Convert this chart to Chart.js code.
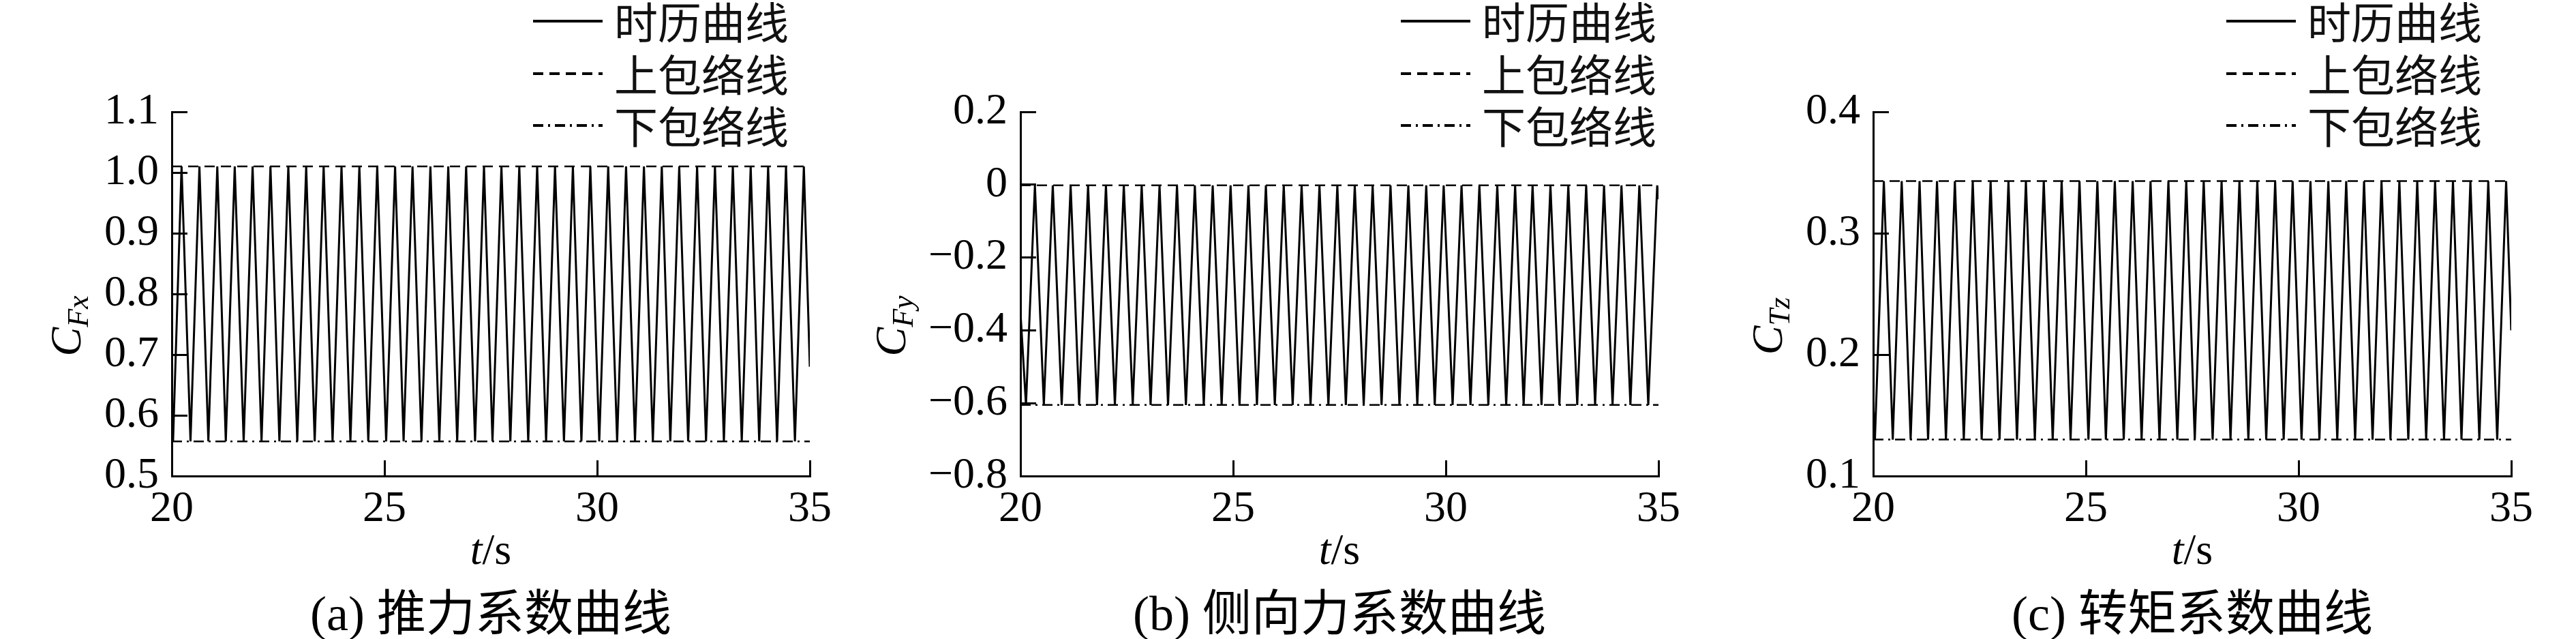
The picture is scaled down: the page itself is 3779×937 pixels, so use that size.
<!DOCTYPE html>
<html>
<head>
<meta charset="utf-8">
<script src="https://cdn.jsdelivr.net/npm/chart.js@4.4.1/dist/chart.umd.min.js"></script>
<style>
  body { margin: 0; background: #fff; width: 3779px; height: 937px; position: relative; overflow: hidden; }
  canvas { position: absolute; top: 0; }
</style>
</head>
<body>
<canvas id="cfx" width="1260" height="937" style="left:0px"></canvas>
<canvas id="cfy" width="1260" height="937" style="left:1245px"></canvas>
<canvas id="ctz" width="1260" height="937" style="left:2496px"></canvas>
<script>
// legend labels
const seriesNames = ["时历曲线", "上包络线", "下包络线"];

// (a) thrust coefficient: times of peaks / troughs
const tPeakFx = [20.23, 20.65, 21.07, 21.48, 21.90, 22.32, 22.74, 23.16, 23.57, 23.99, 24.41, 24.83,
  25.25, 25.66, 26.08, 26.50, 26.92, 27.34, 27.75, 28.17, 28.59, 29.01, 29.43, 29.84,
  30.26, 30.68, 31.10, 31.52, 31.93, 32.35, 32.77, 33.19, 33.61, 34.02, 34.44, 34.86];
const tTroughFx = [20.03, 20.44, 20.86, 21.27, 21.69, 22.11, 22.53, 22.95, 23.36, 23.78, 24.20, 24.62,
  25.04, 25.45, 25.87, 26.29, 26.71, 27.13, 27.54, 27.96, 28.38, 28.80, 29.22, 29.63,
  30.05, 30.47, 30.89, 31.31, 31.72, 32.14, 32.56, 32.98, 33.40, 33.81, 34.23, 34.65];
const envFx = [1.01, 0.557];      // upper, lower envelope
const edgeTFx = [20, 35];
const edgeVFx = [0.64, 0.68];
const yTicksFx = [0.5, 1.1, 0.1];  // min, max, step

// (b) side force coefficient
const tPeakFy = [20.34, 20.76, 21.18, 21.59, 22.01, 22.43, 22.85, 23.27, 23.68, 24.10, 24.52, 24.94,
  25.36, 25.77, 26.19, 26.61, 27.03, 27.45, 27.86, 28.28, 28.70, 29.12, 29.54, 29.95,
  30.37, 30.79, 31.21, 31.63, 32.04, 32.46, 32.88, 33.30, 33.72, 34.13, 34.55, 34.97];
const tTroughFy = [20.13, 20.55, 20.97, 21.38, 21.80, 22.22, 22.64, 23.06, 23.47, 23.89, 24.31, 24.73,
  25.15, 25.56, 25.98, 26.40, 26.82, 27.24, 27.65, 28.07, 28.49, 28.91, 29.33, 29.74,
  30.16, 30.58, 31.00, 31.42, 31.83, 32.25, 32.67, 33.09, 33.51, 33.92, 34.34, 34.76];
const envFy = [-0.002, -0.605];
const edgeTFy = [20, 35];
const edgeVFy = [-0.35, -0.04];
const yTicksFy = [-0.8, 0.2, 0.2];

// (c) torque coefficient
const tPeakTz = [20.25, 20.67, 21.09, 21.50, 21.92, 22.34, 22.76, 23.18, 23.59, 24.01, 24.43, 24.85,
  25.27, 25.68, 26.10, 26.52, 26.94, 27.36, 27.77, 28.19, 28.61, 29.03, 29.45, 29.86,
  30.28, 30.70, 31.12, 31.54, 31.95, 32.37, 32.79, 33.21, 33.63, 34.04, 34.46, 34.88];
const tTroughTz = [20.04, 20.46, 20.88, 21.29, 21.71, 22.13, 22.55, 22.97, 23.38, 23.80, 24.22, 24.64,
  25.06, 25.47, 25.89, 26.31, 26.73, 27.15, 27.56, 27.98, 28.40, 28.82, 29.24, 29.65,
  30.07, 30.49, 30.91, 31.33, 31.74, 32.16, 32.58, 33.00, 33.42, 33.83, 34.25, 34.67];
const envTz = [0.343, 0.130];
const edgeTTz = [20, 35];
const edgeVTz = [0.16, 0.22];
const yTicksTz = [0.1, 0.4, 0.1];

const xTicks = [20, 35, 5];

const SERIF = "'Liberation Serif', 'Times New Roman', serif";
const CJK = "'Noto Sans CJK SC', sans-serif";

// join troughs and peaks into one polyline
function buildSeries(tPeak, tTrough, env, edgeT, edgeV) {
  const pts = [{ x: edgeT[0], y: edgeV[0] }];
  tPeak.forEach((t, i) => {
    pts.push({ x: tTrough[i], y: env[1] });
    pts.push({ x: t, y: env[0] });
  });
  pts.push({ x: edgeT[1], y: edgeV[1] });
  return pts;
}

function fmtTick(v) {
  const r = Math.round(v * 10) / 10;
  if (r === 0) return "0";
  return r.toFixed(1).replace("-", "\u2212");
}

// axis titles, caption and legend
const decor = {
  id: "decor",
  afterDraw(chart) {
    const o = chart.options.plugins.decor;
    const ctx = chart.ctx;
    const a = chart.chartArea;
    ctx.save();
    ctx.fillStyle = "#000";

    // y title: C with subscript, rotated
    ctx.translate(o.yTitleX, 478);
    ctx.rotate(-Math.PI / 2);
    ctx.textBaseline = "middle";
    ctx.font = "italic 64px " + SERIF;
    const wC = ctx.measureText("C").width;
    ctx.font = "italic 44px " + SERIF;
    const wS = ctx.measureText(o.sub).width;
    const u0 = -(wC + wS) / 2;
    ctx.font = "italic 64px " + SERIF;
    ctx.textAlign = "left";
    ctx.fillText("C", u0, 0);
    ctx.font = "italic 44px " + SERIF;
    ctx.fillText(o.sub, u0 + wC, 16);
    ctx.setTransform(1, 0, 0, 1, 0, 0);

    // x title t/s
    const cx = (a.left + a.right) / 2;
    ctx.textBaseline = "middle";
    ctx.font = "italic 64px " + SERIF;
    const wt = ctx.measureText("t").width;
    ctx.font = "64px " + SERIF;
    const ws = ctx.measureText("/s").width;
    const x0 = cx - (wt + ws) / 2;
    ctx.textAlign = "left";
    ctx.font = "italic 64px " + SERIF;
    ctx.fillText("t", x0, 810);
    ctx.font = "64px " + SERIF;
    ctx.fillText("/s", x0 + wt, 810);

    // caption
    ctx.textAlign = "center";
    ctx.font = "72px 'Liberation Serif', 'Noto Sans CJK SC'";
    ctx.fillText(o.caption, cx, 905);

    // legend
    const rows = [31, 108, 184];
    const lx = a.right + o.legendDx;
    chart.data.datasets.forEach((ds, i) => {
      const y = rows[i];
      ctx.beginPath();
      ctx.setLineDash(ds.borderDash || []);
      ctx.lineWidth = 4;
      ctx.strokeStyle = "#000";
      ctx.moveTo(lx - 414, y);
      ctx.lineTo(lx - 312, y);
      ctx.stroke();
      ctx.setLineDash([]);
      ctx.textAlign = "left";
      ctx.font = "64px " + CJK;
      ctx.fillStyle = "#111";
      ctx.fillText(ds.label, lx - 295, y + 2);
    });
    ctx.restore();
  },
};

function makePanel(id, series, env, yTicks, sub, caption, yTitleX, legendDx) {
  const axisFont = { family: SERIF, size: 64, lineHeight: 1 };
  return new Chart(document.getElementById(id), {
    type: "line",
    data: {
      datasets: [
        { label: seriesNames[0], data: series, borderColor: "#000", borderWidth: 3,
          pointRadius: 0, tension: 0 },
        { label: seriesNames[1], data: [{ x: xTicks[0], y: env[0] }, { x: xTicks[1], y: env[0] }],
          borderColor: "#000", borderWidth: 2.5, borderDash: [15, 9], pointRadius: 0 },
        { label: seriesNames[2], data: [{ x: xTicks[0], y: env[1] }, { x: xTicks[1], y: env[1] }],
          borderColor: "#000", borderWidth: 2.5, borderDash: [15, 7, 3, 7], pointRadius: 0 },
      ],
    },
    options: {
      responsive: false,
      animation: false,
      devicePixelRatio: 1,
      layout: { padding: { left: 0, right: 63, top: 164, bottom: 0 } },
      plugins: {
        legend: { display: false },
        tooltip: { enabled: false },
        decor: { sub: sub, caption: caption, yTitleX: yTitleX, legendDx: legendDx },
      },
      scales: {
        x: {
          type: "linear",
          min: xTicks[0],
          max: xTicks[1],
          afterFit(s) { s.height = 239; },
          ticks: { stepSize: xTicks[2], padding: 40, color: "#000", font: axisFont, maxRotation: 0 },
          grid: { drawOnChartArea: false, tickLength: -23, color: "#000", lineWidth: 3 },
          border: { color: "#000", width: 3 },
        },
        y: {
          min: yTicks[0],
          max: yTicks[1],
          afterFit(s) { s.width = 252; },
          ticks: { stepSize: yTicks[2], padding: 42, color: "#000", font: axisFont, callback: fmtTick },
          grid: { drawOnChartArea: false, tickLength: -23, color: "#000", lineWidth: 3 },
          border: { color: "#000", width: 3 },
        },
      },
    },
    plugins: [decor],
  });
}

makePanel("cfx", buildSeries(tPeakFx, tTroughFx, envFx, edgeTFx, edgeVFx), envFx, yTicksFx,
  "Fx", "(a) 推力系数曲线", 101, 8);
makePanel("cfy", buildSeries(tPeakFy, tTroughFy, envFy, edgeTFy, edgeVFy), envFy, yTicksFy,
  "Fy", "(b) 侧向力系数曲线", 66, 36);
makePanel("ctz", buildSeries(tPeakTz, tTroughTz, envTz, edgeTTz, edgeVTz), envTz, yTicksTz,
  "Tz", "(c) 转矩系数曲线", 101, -4);
</script>
</body>
</html>
